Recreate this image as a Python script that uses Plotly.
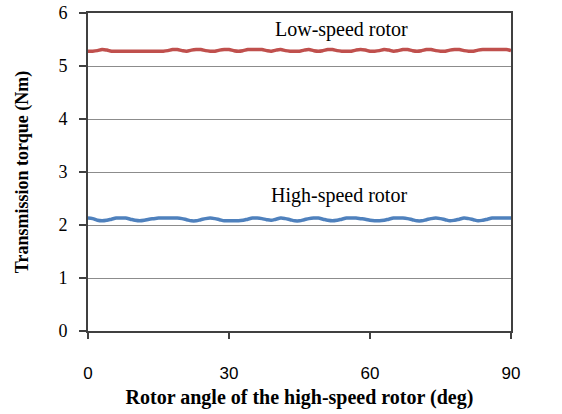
import plotly.graph_objects as go

angle = list(range(0, 91))

low_speed = [5.28, 5.28, 5.29, 5.31, 5.30, 5.28, 5.28, 5.28, 5.28, 5.28,
             5.28, 5.28, 5.28, 5.28, 5.28, 5.28, 5.28, 5.29, 5.31, 5.31,
             5.29, 5.28, 5.30, 5.31, 5.31, 5.29, 5.28, 5.28, 5.30, 5.31,
             5.31, 5.29, 5.28, 5.29, 5.31, 5.31, 5.31, 5.31, 5.29, 5.28,
             5.30, 5.31, 5.29, 5.28, 5.28, 5.28, 5.30, 5.31, 5.29, 5.28,
             5.29, 5.31, 5.31, 5.29, 5.28, 5.28, 5.28, 5.30, 5.31, 5.30,
             5.28, 5.28, 5.29, 5.31, 5.30, 5.28, 5.29, 5.31, 5.31, 5.29,
             5.28, 5.29, 5.31, 5.31, 5.29, 5.28, 5.28, 5.30, 5.31, 5.31,
             5.29, 5.28, 5.28, 5.30, 5.31, 5.31, 5.31, 5.31, 5.31, 5.31,
             5.29]

high_speed = [2.13, 2.12, 2.09, 2.08, 2.09, 2.11, 2.13, 2.13, 2.13, 2.11,
              2.09, 2.08, 2.09, 2.11, 2.12, 2.13, 2.13, 2.13, 2.13, 2.13,
              2.12, 2.10, 2.08, 2.08, 2.10, 2.12, 2.13, 2.12, 2.10, 2.08,
              2.08, 2.08, 2.08, 2.09, 2.11, 2.13, 2.13, 2.12, 2.10, 2.09,
              2.11, 2.13, 2.12, 2.10, 2.08, 2.08, 2.10, 2.12, 2.13, 2.13,
              2.11, 2.09, 2.08, 2.09, 2.11, 2.13, 2.13, 2.13, 2.12, 2.11,
              2.09, 2.08, 2.08, 2.09, 2.11, 2.13, 2.13, 2.13, 2.12, 2.10,
              2.08, 2.08, 2.10, 2.12, 2.13, 2.12, 2.10, 2.08, 2.09, 2.11,
              2.13, 2.12, 2.10, 2.08, 2.09, 2.11, 2.13, 2.13, 2.13, 2.13,
              2.13]

x_ticks = [0, 30, 60, 90]
y_ticks = [0, 1, 2, 3, 4, 5, 6]

serif = "Liberation Serif, Times New Roman, serif"
sans = "Liberation Sans, Arial, sans-serif"

fig = go.Figure()
fig.add_trace(go.Scatter(x=angle, y=low_speed, mode="lines", name="Low-speed rotor",
                         line=dict(color="#C0504D", width=3.5, shape="spline")))
fig.add_trace(go.Scatter(x=angle, y=high_speed, mode="lines", name="High-speed rotor",
                         line=dict(color="#4F81BD", width=3.5, shape="spline")))

fig.add_annotation(x=54.0, y=5.68, text="Low-speed rotor", showarrow=False,
                   font=dict(family=serif, size=20, color="#000"))
fig.add_annotation(x=53.5, y=2.55, text="High-speed rotor", showarrow=False,
                   font=dict(family=serif, size=20, color="#000"))

fig.update_layout(
    width=562, height=414,
    margin=dict(l=88, r=51, t=13, b=83),
    paper_bgcolor="white", plot_bgcolor="white",
    showlegend=False,
    xaxis=dict(range=[0, 90], tickvals=x_ticks, showgrid=False, zeroline=False,
               automargin=False,
               showline=True, linecolor="#404040", linewidth=2, mirror=True,
               ticks="outside", ticklen=6, tickcolor="#404040", tickwidth=2,
               ticklabelstandoff=20,
               tickfont=dict(family=sans, size=17, color="#000"),
               title=dict(text="<b>Rotor angle of the high-speed rotor (deg)</b>",
                          font=dict(family=serif, size=20, color="#000"), standoff=8)),
    yaxis=dict(range=[0, 6], tickvals=y_ticks, showgrid=True, gridcolor="#8c8c8c",
               gridwidth=1, zeroline=False, automargin=False,
               showline=True, linecolor="#404040", linewidth=2, mirror=True,
               ticks="outside", ticklen=7, tickcolor="#404040", tickwidth=2,
               ticklabelstandoff=8,
               tickfont=dict(family=serif, size=18, color="#000"),
               title=dict(text="<b>Transmission torque (Nm)</b>",
                          font=dict(family=serif, size=18, color="#000"), standoff=25)),
)

# remove the browser's default 8px body margin so the figure sits at (0, 0)
fig.write_html("out.html", config={"displayModeBar": False},
               post_script="document.body.style.margin='0';")
